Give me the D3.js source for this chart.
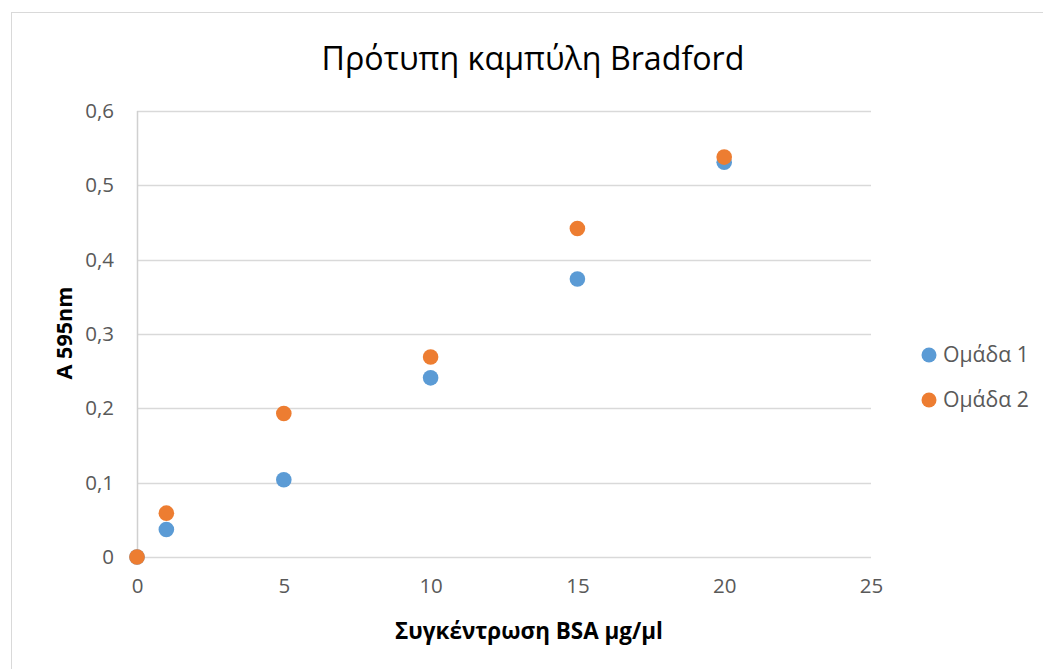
<!DOCTYPE html>
<html>
<head>
<meta charset="utf-8">
<script src="https://cdn.jsdelivr.net/npm/d3@7"></script>
<style>
  body { margin: 0; background: #fff; }
  text { font-family: "Open Sans", "Noto Sans", sans-serif; }
</style>
</head>
<body>
<div id="graf"></div>
<script>
// Datos
titulo = 'Πρότυπη καμπύλη Bradford'
ejeX = 'Συγκέντρωση BSA μg/μl'
ejeY = 'A 595nm'

concentraciones = [0, 1, 5, 10, 15, 20]
grupo1 = [0, 0.037, 0.104, 0.241, 0.374, 0.531]
grupo2 = [0, 0.059, 0.193, 0.269, 0.442, 0.538]

series = ['Ομάδα 1', 'Ομάδα 2']
colores = ['#5b9bd5', '#ed7d31']

xTicks = [0, 5, 10, 15, 20, 25]
yTicks = [0, 0.1, 0.2, 0.3, 0.4, 0.5, 0.6]

// Canvas
ancho_total = 1043
alto_total = 669
margins = {top: 111, left: 137, right: 172, bottom: 112}
ancho = ancho_total - margins.left - margins.right
alto = alto_total - margins.top - margins.bottom

svg = d3.select('#graf').append('svg')
        .attr('width', ancho_total)
        .attr('height', alto_total)

// ajusta el tamaño de letra para que el texto ocupe el ancho dado
function ajustar(sel, anchoObjetivo) {
  sel.each(function () {
    fs = parseFloat(this.style.fontSize)
    w = this.getComputedTextLength()
    if (w > 0) d3.select(this).style('font-size', (fs * anchoObjetivo / w) + 'px')
  })
}

// borde del gráfico
svg.append('rect')
   .attr('x', 11.5).attr('y', 12.5)
   .attr('width', 1040).attr('height', 670)
   .attr('fill', 'none')
   .attr('stroke', '#d9d9d9')

g = svg.append('g')
       .attr('transform', `translate(${margins.left}, ${margins.top})`)

x = d3.scaleLinear().domain([0, 25]).range([0, ancho])
y = d3.scaleLinear().domain([0, 0.6]).range([alto, 0])

fmt = d => d === 0 ? '0' : d3.format('.1f')(d).replace('.', ',')

// grid
g.selectAll('.grid')
 .data(yTicks)
 .enter().append('line')
   .attr('x1', 0).attr('x2', ancho)
   .attr('y1', d => Math.round(y(d)) + 0.5)
   .attr('y2', d => Math.round(y(d)) + 0.5)
   .attr('stroke', '#d9d9d9')
   .attr('stroke-width', 1.3)

// eje Y vertical
g.append('line')
 .attr('x1', 0.5).attr('x2', 0.5)
 .attr('y1', 0).attr('y2', alto)
 .attr('stroke', '#d0d0d0')
 .attr('stroke-width', 1.5)

// etiquetas Y
yAxis = d3.axisLeft(y).tickValues(yTicks).tickSize(0).tickPadding(23).tickFormat(fmt)
g.append('g').call(yAxis)
 .call(s => s.select('.domain').remove())
 .selectAll('text')
   .attr('fill', '#595959')
   .style('font-size', '20.5px')

// etiquetas X
xAxis = d3.axisBottom(x).tickValues(xTicks).tickSize(0).tickPadding(21)
g.append('g').attr('transform', `translate(0, ${alto})`).call(xAxis)
 .call(s => s.select('.domain').remove())
 .selectAll('text')
   .attr('fill', '#595959')
   .style('font-size', '20.5px')

// puntos
datos = [grupo1, grupo2]
datos.forEach((serie, i) => {
  g.selectAll('.p' + i)
   .data(concentraciones.map((c, j) => ({c: c, v: serie[j]})))
   .enter().append('circle')
     .attr('cx', d => x(d.c))
     .attr('cy', d => y(d.v))
     .attr('r', 7.8)
     .attr('fill', colores[i])
})

// titulo
svg.append('text')
   .attr('x', 533).attr('y', 70)
   .attr('text-anchor', 'middle')
   .attr('fill', '#000')
   .style('font-size', '29px')
   .text(titulo)
   .call(ajustar, 423)

// titulos de ejes
svg.append('text')
   .attr('x', 529).attr('y', 639)
   .attr('text-anchor', 'middle')
   .attr('fill', '#000')
   .style('font-size', '18px')
   .style('font-weight', 'bold')
   .text(ejeX)
   .call(ajustar, 268)

svg.append('text')
   .attr('transform', 'translate(72, 333) rotate(-90)')
   .attr('text-anchor', 'middle')
   .attr('fill', '#000')
   .style('font-size', '18px')
   .style('font-weight', 'bold')
   .text(ejeY)
   .call(ajustar, 93)

// leyenda
ley = svg.selectAll('.ley')
         .data(series)
         .enter().append('g')
         .attr('transform', (d, i) => `translate(929, ${355 + i * 45})`)
ley.append('circle').attr('r', 7.5).attr('fill', (d, i) => colores[i])
ley.append('text')
   .attr('x', 14).attr('y', 7)
   .attr('fill', '#595959')
   .style('font-size', '18px')
   .text(d => d)
   .call(ajustar, 86)
</script>
</body>
</html>
